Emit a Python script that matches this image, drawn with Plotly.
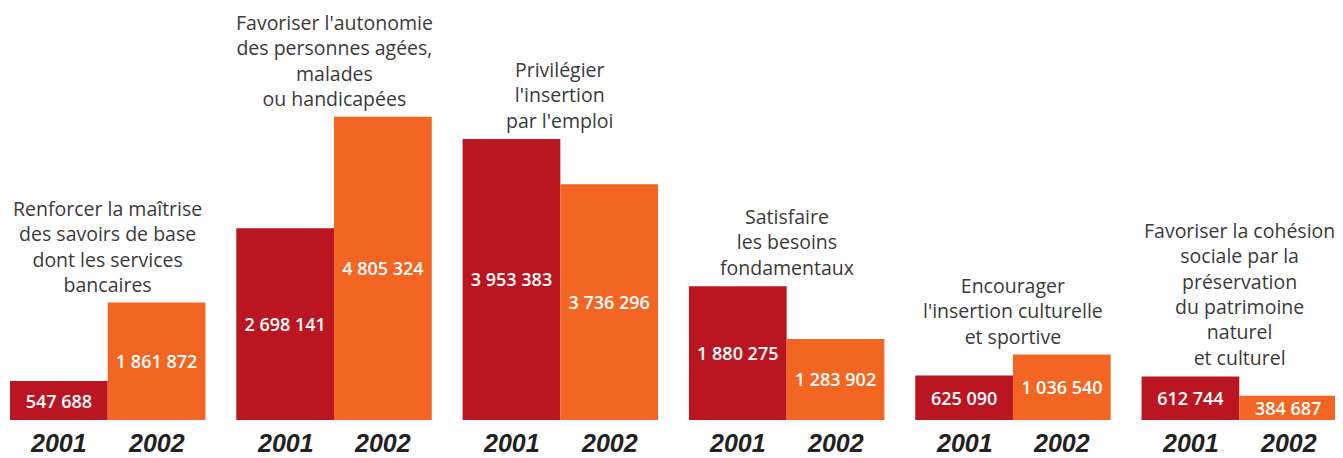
import plotly.graph_objects as go

# ---- data ----
groups = [
    "Renforcer la maîtrise<br>des savoirs de base<br>dont les services<br>bancaires",
    "Favoriser l'autonomie<br>des personnes agées,<br>malades<br>ou handicapées",
    "Privilégier<br>l'insertion<br>par l'emploi",
    "Satisfaire<br>les besoins<br>fondamentaux",
    "Encourager<br>l'insertion culturelle<br>et sportive",
    "Favoriser la cohésion<br>sociale par la<br>préservation<br>du patrimoine<br>naturel<br>et culturel",
]
years = ["2001", "2002"]
values_2001 = [547688, 2698141, 3953383, 1880275, 625090, 612744]
values_2002 = [1861872, 4805324, 3736296, 1283902, 1036540, 384687]

# ---- layout helpers ----
BAR_W = 1.0
PITCH = 2.316
COLORS = {"2001": "#BA1622", "2002": "#F26522"}
# the original artwork draws each year on its own (slightly different) scale
YMAX = {"2001": 5.795e6, "2002": 6.53e6}
YAX = {"2001": "y", "2002": "y2"}


def fmt(v):
    return f"{v:,}".replace(",", " ")


fig = go.Figure()
series = {"2001": values_2001, "2002": values_2002}
for j, yr in enumerate(years):
    vals = series[yr]
    xs = [g * PITCH + j * BAR_W + BAR_W / 2 for g in range(len(groups))]
    fig.add_trace(go.Bar(
        x=xs, y=vals, width=BAR_W, yaxis=YAX[yr],
        marker=dict(color=COLORS[yr], line=dict(width=0)),
        text=[fmt(v) for v in vals],
        textposition="inside", insidetextanchor="middle", textangle=0,
        textfont=dict(family="Open Sans", size=18, color="white", weight=600),
        hoverinfo="skip", showlegend=False, cliponaxis=False,
    ))

annotations = []
for g, title in enumerate(groups):
    cx = g * PITCH + BAR_W
    top = max(values_2001[g] / YMAX["2001"], values_2002[g] / YMAX["2002"])
    annotations.append(dict(
        x=cx, y=top, xref="x", yref="paper", text=title, showarrow=False,
        yanchor="bottom", xanchor="center", yshift=3,
        font=dict(family="Open Sans", size=19.5, color="#3a3a3a"),
    ))
    for j, yr in enumerate(years):
        annotations.append(dict(
            x=g * PITCH + j * BAR_W + BAR_W / 2, y=0, xref="x", yref="paper",
            text=yr, showarrow=False, yanchor="top", xanchor="center", yshift=-7,
            font=dict(family="Liberation Sans", size=25, color="#222222",
                      weight="bold", style="italic"),
        ))

fig.update_layout(
    width=1335, height=450,
    margin=dict(l=2, r=6, t=0, b=38),
    paper_bgcolor="white", plot_bgcolor="white",
    barmode="overlay",
    uniformtext=dict(minsize=18, mode="show"),
    annotations=annotations,
    xaxis=dict(range=[0, 5 * PITCH + 2 * BAR_W], visible=False, fixedrange=True),
    yaxis=dict(range=[0, YMAX["2001"]], visible=False, fixedrange=True),
    yaxis2=dict(range=[0, YMAX["2002"]], visible=False, fixedrange=True,
                overlaying="y"),
)

fig.write_html("out.html")
